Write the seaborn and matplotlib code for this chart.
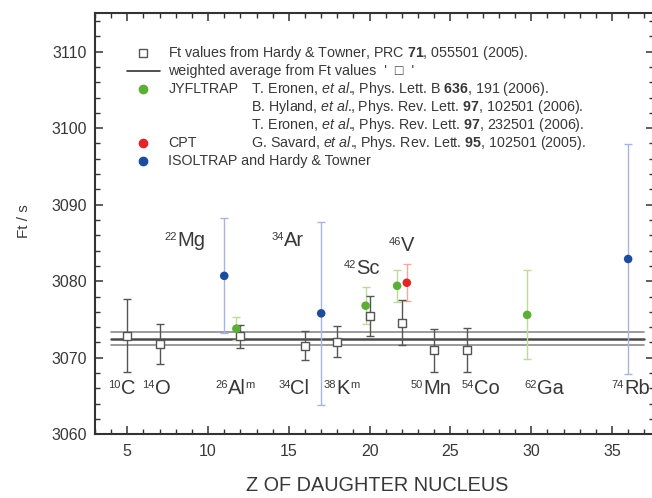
import matplotlib
matplotlib.use("Agg")
import matplotlib.pyplot as plt
import pandas as pd
import seaborn as sns
from matplotlib.ticker import MultipleLocator

# Hardy & Towner Ft values (open squares)
ht_z = [5, 7, 12, 16, 18, 20, 22, 24, 26]
ht_ft = [3072.9, 3071.8, 3072.8, 3071.6, 3072.1, 3075.5, 3074.6, 3071.0, 3071.0]
ht_err = [4.8, 2.6, 1.5, 1.9, 2.0, 2.6, 2.9, 2.8, 2.9]

# JYFLTRAP
jyfl_z = [11.75, 19.75, 21.7, 29.75]
jyfl_ft = [3073.8, 3076.8, 3079.4, 3075.6]
jyfl_err = [1.5, 2.4, 2.1, 5.8]

# CPT
cpt_z = [22.3]
cpt_ft = [3079.8]
cpt_err = [2.4]

# ISOLTRAP and Hardy & Towner
iso_z = [11, 17, 36]
iso_ft = [3080.7, 3075.8, 3082.9]
iso_err = [7.5, 12.0, 15.0]

# weighted average of the Hardy & Towner values
avg_ft = 3072.5
avg_err = 0.8
avg_z = [4, 37]

# nuclide labels
lab_mass = ["10", "14", "26", "34", "38", "50", "54", "62", "74", "22", "34", "42", "46"]
lab_sym = ["C", "O", "Al", "Cl", "K", "Mn", "Co", "Ga", "Rb", "Mg", "Ar", "Sc", "V"]
lab_iso = ["", "", "m", "", "m", "", "", "", "", "", "", "", ""]

TEXT = "#383838"
GREEN, RED, BLUE = "#5cae37", "#e0262b", "#1d4c9e"
GREEN_BAR, RED_BAR, BLUE_BAR = "#bcdc98", "#f2a9a0", "#a9b3e3"

sns.set_theme(style="ticks")
plt.rcParams["font.family"] = ["Liberation Sans", "DejaVu Sans"]
plt.rcParams["mathtext.fontset"] = "custom"
plt.rcParams["mathtext.rm"] = "Liberation Sans"
plt.rcParams["mathtext.it"] = "Liberation Sans:italic"
plt.rcParams["mathtext.bf"] = "Liberation Sans:bold"

fig = plt.figure(figsize=(6.52, 4.98), dpi=100)
ax = fig.add_axes([95 / 652, 63.7 / 498, 559 / 652, 421 / 498])

# weighted average band
ax.plot(avg_z, [avg_ft + avg_err] * 2, color="#8a8a8a", lw=1.2, zorder=1)
ax.plot(avg_z, [avg_ft - avg_err] * 2, color="#8a8a8a", lw=1.2, zorder=1)
ax.plot(avg_z, [avg_ft] * 2, color="#4a4a4a", lw=1.8, zorder=1)

# error bars
ax.errorbar(iso_z, iso_ft, yerr=iso_err, fmt="none", ecolor=BLUE_BAR,
            elinewidth=1, capsize=3, zorder=2)
ax.errorbar(jyfl_z, jyfl_ft, yerr=jyfl_err, fmt="none", ecolor=GREEN_BAR,
            elinewidth=1, capsize=3, zorder=2)
ax.errorbar(cpt_z, cpt_ft, yerr=cpt_err, fmt="none", ecolor=RED_BAR,
            elinewidth=1, capsize=3, zorder=2)
ax.errorbar(ht_z, ht_ft, yerr=ht_err, fmt="none", ecolor="#555555",
            elinewidth=1, capsize=3, capthick=1, zorder=3)

sns.scatterplot(x=ht_z, y=ht_ft, marker="s", s=32, facecolor="white",
                edgecolor="#555555", linewidth=1, ax=ax, zorder=4)

traps = pd.DataFrame({
    "z": jyfl_z + cpt_z + iso_z,
    "ft": jyfl_ft + cpt_ft + iso_ft,
    "group": ["JYFLTRAP"] * len(jyfl_z) + ["CPT"] * len(cpt_z) + ["ISOLTRAP"] * len(iso_z),
})
sns.scatterplot(data=traps, x="z", y="ft", hue="group",
                palette={"JYFLTRAP": GREEN, "CPT": RED, "ISOLTRAP": BLUE},
                s=38, linewidth=0, legend=False, ax=ax, zorder=5)


def nuclide_label(x, y, mass, sym, iso=""):
    main = ax.text(x, y, sym, fontsize=14.5, color=TEXT, ha="left", va="baseline")
    ax.annotate(mass, xy=(0, 0.93), xycoords=main, ha="right", va="top",
                fontsize=8, color=TEXT)
    if iso:
        ax.annotate(iso, xy=(1, 0.93), xycoords=main, ha="left", va="top",
                    fontsize=8, color=TEXT)


lab_x = [4.6, 6.7, 11.2, 15.1, 17.95, 23.3, 26.45, 30.35, 35.75, 8.1, 14.7, 19.15, 21.95]
lab_y = [3065.3] * 9 + [3084.6, 3084.6, 3081.0, 3084.0]
for x, y, m, s, i in zip(lab_x, lab_y, lab_mass, lab_sym, lab_iso):
    nuclide_label(x, y, m, s, i)

# hand-made legend block (axes fraction)
rows = [0.9064, 0.8637, 0.8209, 0.7781, 0.7354, 0.6926, 0.6499]
mx, tx, rx = 0.086, 0.1314, 0.279
lkw = dict(transform=ax.transAxes, fontsize=10.3, color=TEXT, va="center", ha="left")
etal = r"$\mathit{et\ al.}\!\!$"
ax.plot([mx], [rows[0]], marker="s", ms=5.5, mfc="white", mec="#555555",
        mew=1, transform=ax.transAxes)
ax.text(tx, rows[0], r"Ft values from Hardy & Towner, PRC $\mathbf{71}$, 055501 (2005).", **lkw)
ax.plot([0.0568, 0.1165], [rows[1]] * 2, color="#333333", lw=1.2, transform=ax.transAxes)
ax.text(tx, rows[1], "weighted average from Ft values  '  \u25a1  '", **lkw)
ax.plot([mx], [rows[2]], "o", ms=6, color=GREEN, transform=ax.transAxes)
ax.text(tx, rows[2], "JYFLTRAP", **lkw)
ax.text(rx, rows[2], "T. Eronen, " + etal + r", Phys. Lett. B $\mathbf{636}$, 191 (2006).", **lkw)
ax.text(rx, rows[3], "B. Hyland, " + etal + r", Phys. Rev. Lett. $\mathbf{97}$, 102501 (2006).", **lkw)
ax.text(rx, rows[4], "T. Eronen, " + etal + r", Phys. Rev. Lett. $\mathbf{97}$, 232501 (2006).", **lkw)
ax.plot([mx], [rows[5]], "o", ms=6, color=RED, transform=ax.transAxes)
ax.text(tx, rows[5], "CPT", **lkw)
ax.text(rx, rows[5], "G. Savard, " + etal + r", Phys. Rev. Lett. $\mathbf{95}$, 102501 (2005).", **lkw)
ax.plot([mx], [rows[6]], "o", ms=6, color=BLUE, transform=ax.transAxes)
ax.text(tx, rows[6], "ISOLTRAP and Hardy & Towner", **lkw)

ax.set_xlim(3, 37.6)
ax.set_ylim(3060, 3115)
ax.xaxis.set_major_locator(MultipleLocator(5))
ax.xaxis.set_minor_locator(MultipleLocator(1))
ax.yaxis.set_major_locator(MultipleLocator(10))
ax.yaxis.set_minor_locator(MultipleLocator(2))
ax.tick_params(which="both", direction="in", top=True, right=True,
               color="#333333", labelcolor=TEXT, labelsize=11.5)
ax.tick_params(which="major", length=6, width=1.1)
ax.tick_params(which="minor", length=3.5, width=1)
ax.tick_params(axis="y", pad=6)
ax.tick_params(axis="x", pad=7)
for sp in ax.spines.values():
    sp.set_linewidth(1.5)
    sp.set_color("#333333")

ax.set_xlabel("Z OF DAUGHTER NUCLEUS", fontsize=14.3, color=TEXT)
ax.set_ylabel("Ft / s", fontsize=11, color=TEXT)
ax.xaxis.set_label_coords(0.505, -0.10)
ax.yaxis.set_label_coords(-0.114, 0.507)

fig.savefig("out.png", dpi=100)
